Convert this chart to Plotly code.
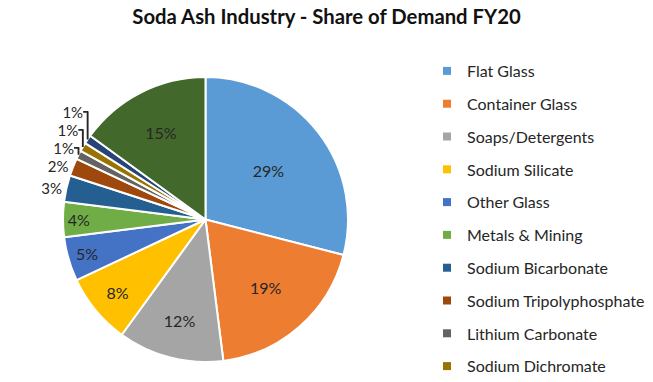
import plotly.graph_objects as go

categories = ["Flat Glass", "Container Glass", "Soaps/Detergents", "Sodium Silicate",
              "Other Glass", "Metals & Mining", "Sodium Bicarbonate",
              "Sodium Tripolyphosphate", "Lithium Carbonate", "Sodium Dichromate",
              "Pulp & Paper", "Others"]
shares = [29, 19, 12, 8, 5, 4, 3, 2, 1, 1, 1, 15]
colors = ["#5B9BD5", "#ED7D31", "#A5A5A5", "#FFC000", "#4472C4", "#70AD47",
          "#255E91", "#9E480E", "#636363", "#997300", "#264478", "#43682B"]
legend_count = 10

W, H = 653, 382
FONT = "Lato"

fig = go.Figure()
fig.add_trace(go.Pie(
    labels=categories, values=shares, sort=False, direction="clockwise", rotation=0,
    marker=dict(colors=colors, line=dict(color="white", width=2)),
    texttemplate="%{value}%", textposition="auto", insidetextorientation="horizontal",
    textfont=dict(family=FONT, size=16, color="#262626"),
    outsidetextfont=dict(family=FONT, size=15, color="#262626"),
    showlegend=False, hoverinfo="label+percent",
    domain=dict(x=[63 / W, 348 / W], y=[1 - 362 / H, 1 - 77 / H]),
))
for i in range(legend_count):
    fig.add_trace(go.Scatter(
        x=[None], y=[None], mode="markers", name=categories[i],
        marker=dict(symbol="square", size=8, color=colors[i]),
        legendgroup=categories[i], showlegend=True,
    ))

fig.update_layout(
    width=W, height=H, margin=dict(l=0, r=0, t=0, b=0, autoexpand=False),
    paper_bgcolor="white", plot_bgcolor="white",
    title=dict(text="<b>Soda Ash Industry - Share of Demand FY20</b>",
               font=dict(family=FONT, size=20.3, color="#111111"),
               x=0.5, xanchor="center", y=1 - 17 / H, yanchor="middle"),
    xaxis=dict(visible=False), yaxis=dict(visible=False),
    legend=dict(x=427 / W, y=1 - 54 / H, xanchor="left", yanchor="top",
                font=dict(family=FONT, size=16, color="#262626"),
                traceorder="grouped", tracegroupgap=9, bgcolor="rgba(0,0,0,0)"),
)
fig.write_html("out.html", config={"displayModeBar": False},
               post_script="document.body.style.margin='0';")
